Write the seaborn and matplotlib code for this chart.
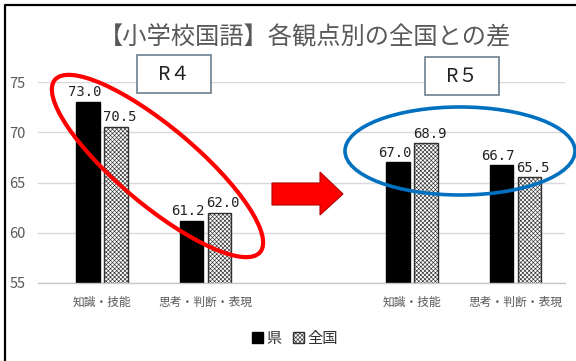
import numpy as np
import pandas as pd
import seaborn as sns
import matplotlib.pyplot as plt
from matplotlib.patches import Ellipse, Polygon, Rectangle
from matplotlib.lines import Line2D
from matplotlib.transforms import Affine2D

# --- data -------------------------------------------------------------
slots = ["R4-知識・技能", "R4-思考・判断・表現", "gap", "R5-知識・技能", "R5-思考・判断・表現"]
tick_labels = ["知識・技能", "思考・判断・表現", "", "知識・技能", "思考・判断・表現"]
series = ["県", "全国"]
pref_scores = [73.0, 61.2, np.nan, 67.0, 66.7]
national_scores = [70.5, 62.0, np.nan, 68.9, 65.5]

df = pd.DataFrame({
    "slot": slots * 2,
    "group": [series[0]] * len(slots) + [series[1]] * len(slots),
    "score": pref_scores + national_scores,
}).dropna()

# --- style ------------------------------------------------------------
sns.set_theme(style="white")
JP = ["Noto Sans CJK JP", "DejaVu Sans"]
plt.rcParams["font.family"] = JP
plt.rcParams["hatch.color"] = "#9a9a9a"
plt.rcParams["hatch.linewidth"] = 0.45

DOTS = "xxxxxxxx"

W, H = 576, 361
fig = plt.figure(figsize=(W / 100, H / 100), dpi=100)
# pixel coordinates measured from the top-left corner
px = Affine2D().scale(1, -1).translate(0, H)

ax = fig.add_axes([38 / W, (H - 283) / H, (565 - 38) / W, (283 - 82) / H])

sns.barplot(data=df, x="slot", y="score", hue="group", order=slots,
            hue_order=series, palette=["black", "white"], width=0.54,
            gap=0.16, edgecolor="black", linewidth=1.0, saturation=1,
            legend=False, ax=ax)

# dotted fill for the national bars
for bar in ax.containers[1]:
    bar.set_hatch(DOTS)
    bar.set_facecolor("white")
    bar.set_edgecolor("#303030")

ax.set_ylim(55, 75)
ax.set_xlim(-0.62, 4.48)
ax.set_yticks([55, 60, 65, 70, 75])
ax.yaxis.grid(True, color="#d9d9d9", linewidth=1.0)
ax.set_axisbelow(True)
for s in ["top", "right", "left"]:
    ax.spines[s].set_visible(False)
ax.spines["bottom"].set_color("#c8c8c8")
ax.spines["bottom"].set_linewidth(1.0)
ax.set_xlabel("")
ax.set_ylabel("")
ax.set_xticks(range(len(slots)))
ax.set_xticklabels(tick_labels)
ax.tick_params(axis="x", length=0, pad=9, labelsize=8.5, labelcolor="#595959")
ax.tick_params(axis="y", length=0, pad=9, labelsize=10.5, labelcolor="#595959")

# value labels above each bar, nudged apart so neighbours don't collide
for cont, dx in zip(ax.containers, [-2.5, 2.5]):
    for bar in cont:
        h = bar.get_height()
        ax.annotate(f"{h:.1f}", xy=(bar.get_x() + bar.get_width() / 2, h),
                    xytext=(dx, 2), textcoords="offset points",
                    ha="center", va="bottom", fontsize=10,
                    family="DejaVu Sans Mono", color="#222222")

# title
fig.text(305 / W, 1 - 36 / H, "【小学校国語】各観点別の全国との差",
         ha="center", va="center", fontsize=17.5, color="#595959")

# year boxes
for x0, y0, label in [(137, 55, "R４"), (425, 57, "R５")]:
    box = Rectangle((x0, y0), 74, 38, facecolor="white",
                    edgecolor="#6d7f8f", linewidth=1.2, transform=px)
    fig.add_artist(box)
    fig.text((x0 + 37) / W, 1 - (y0 + 20) / H, label, ha="center",
             va="center", fontsize=14, color="#222222")

# highlight ellipses
fig.add_artist(Ellipse((157.5, 166), 268, 78, angle=40, fill=False,
                       edgecolor="#ff0000", linewidth=3.0, transform=px))
fig.add_artist(Ellipse((460, 151), 230, 88, angle=0, fill=False,
                       edgecolor="#0070c0", linewidth=2.6, transform=px))

# arrow between the two years
arrow_pts = [(272, 183), (320, 183), (320, 172), (343, 194),
             (320, 215), (320, 205), (272, 205)]
fig.add_artist(Polygon(arrow_pts, closed=True, facecolor="#ff0000",
                       edgecolor="#b00000", linewidth=0.8, transform=px))

# legend
handles = [Rectangle((0, 0), 1, 1, facecolor="black", edgecolor="black"),
           Rectangle((0, 0), 1, 1, facecolor="white", edgecolor="#303030",
                     hatch=DOTS)]
fig.legend(handles, series, loc="center", bbox_to_anchor=(295 / W, 1 - 338 / H),
           ncol=2, frameon=False, fontsize=11, handlelength=0.7,
           handleheight=0.7, handletextpad=0.2, columnspacing=0.8,
           labelcolor="#333333")

# outer frame (top and left edges)
fig.add_artist(Line2D([5, 5, W + 5], [H + 5, 5, 5], color="black",
                      linewidth=1.6, transform=px))

fig.savefig("out.png", dpi=100)
